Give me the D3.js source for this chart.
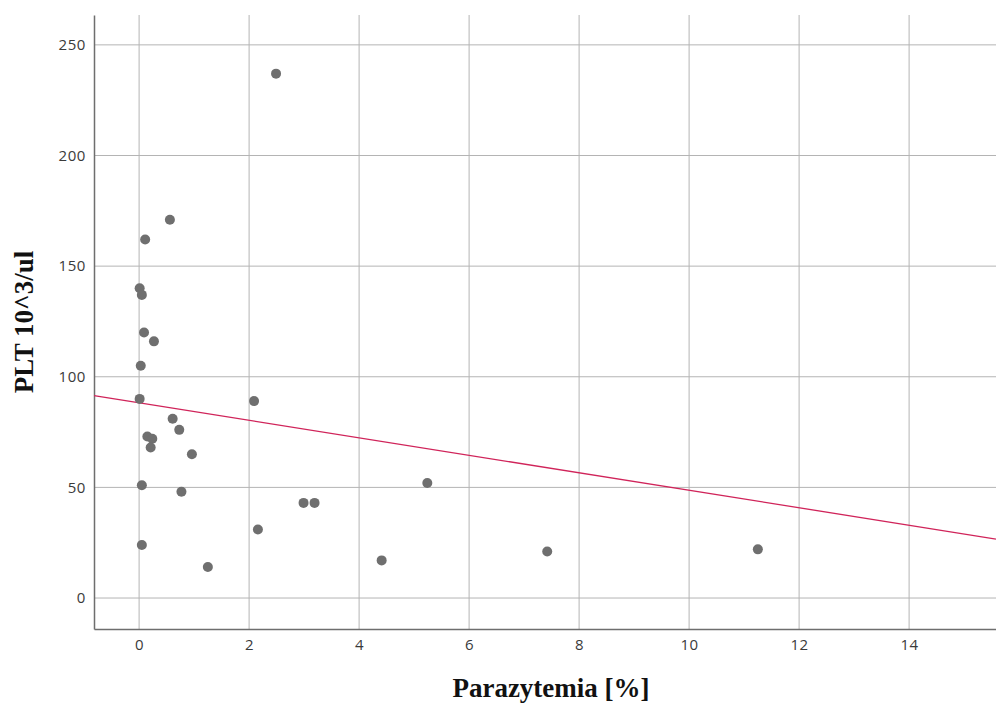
<!DOCTYPE html>
<html>
<head>
<meta charset="utf-8">
<script src="https://cdn.jsdelivr.net/npm/d3@7"></script>
<style>
  html, body { margin: 0; padding: 0; background: #fff; }
  svg { display: block; }
</style>
</head>
<body>
<svg id="chart" width="996" height="704"></svg>
<script>
// Parasitemia (%) against platelet count (10^3/ul), one point per patient
const parasitemia = [2.49, 0.56, 0.11, 0.01, 0.05, 0.09, 0.27, 0.03, 0.01, 2.09,
  0.61, 0.73, 0.15, 0.24, 0.21, 0.96, 0.05, 0.77, 2.99, 3.19,
  2.16, 0.05, 1.25, 4.41, 5.24, 7.42, 11.25];
const plt = [237, 171, 162, 140, 137, 120, 116, 105, 90, 89,
  81, 76, 73, 72, 68, 65, 51, 48, 43, 43,
  31, 24, 14, 17, 52, 21, 22];

// Fitted linear trend line: PLT = intercept + slope * parasitemia
const fitIntercept = 88.2;
const fitSlope = -3.95;

const xTicks = [0, 2, 4, 6, 8, 10, 12, 14];
const yTicks = [0, 50, 100, 150, 200, 250];

const xDomain = [-0.82, 15.58];
const yDomain = [-14, 263.5];

const svg = d3.select("#chart");
const plotLeft = 94, plotRight = 996, plotTop = 15, plotBottom = 629;

const x = d3.scaleLinear().domain(xDomain).range([plotLeft, plotRight]);
const y = d3.scaleLinear().domain(yDomain).range([plotBottom, plotTop]);

// Grid lines
const grid = svg.append("g");
grid.selectAll("line.vg").data(xTicks).join("line")
  .attr("class", "vg")
  .attr("x1", d => x(d)).attr("x2", d => x(d))
  .attr("y1", plotTop).attr("y2", plotBottom)
  .attr("stroke", "#b4b4b4").attr("stroke-width", 1);
grid.selectAll("line.hg").data(yTicks).join("line")
  .attr("class", "hg")
  .attr("x1", plotLeft).attr("x2", plotRight)
  .attr("y1", d => y(d)).attr("y2", d => y(d))
  .attr("stroke", "#b4b4b4").attr("stroke-width", 1);

// Axes
const xAxis = d3.axisBottom(x).tickValues(xTicks).tickSize(0).tickPadding(10);
const yAxis = d3.axisLeft(y).tickValues(yTicks).tickSize(0).tickPadding(8);

const gx = svg.append("g").attr("transform", `translate(0,${plotBottom})`).call(xAxis);
const gy = svg.append("g").attr("transform", `translate(${plotLeft},0)`).call(yAxis);
[gx, gy].forEach(g => {
  g.select(".domain").attr("stroke", "#6e6e6e").attr("stroke-width", 1.5);
  g.selectAll("text")
    .attr("fill", "#3a3a3a")
    .style("font-family", "'Open Sans', sans-serif")
    .style("font-size", "15px")
    .style("letter-spacing", "0.6px");
});

// Fit line across the full plot width
svg.append("line")
  .attr("x1", x(xDomain[0])).attr("y1", y(fitIntercept + fitSlope * xDomain[0]))
  .attr("x2", x(xDomain[1])).attr("y2", y(fitIntercept + fitSlope * xDomain[1]))
  .attr("stroke", "#d0245a").attr("stroke-width", 1.3);

// Points
const points = parasitemia.map((v, i) => ({ x: v, y: plt[i] }));
svg.append("g").selectAll("circle").data(points).join("circle")
  .attr("cx", d => x(d.x)).attr("cy", d => y(d.y))
  .attr("r", 5)
  .attr("fill", "#6f6f6f");

// Axis titles
svg.append("text")
  .attr("x", 551).attr("y", 697)
  .attr("text-anchor", "middle")
  .style("font-family", "'Liberation Serif', 'Times New Roman', serif")
  .style("font-weight", "bold")
  .style("font-size", "27px")
  .attr("fill", "#111")
  .text("Parazytemia [%]");

svg.append("text")
  .attr("transform", "translate(33,322) rotate(-90)")
  .attr("text-anchor", "middle")
  .style("font-family", "'Liberation Serif', 'Times New Roman', serif")
  .style("font-weight", "bold")
  .style("font-size", "27px")
  .attr("fill", "#111")
  .text("PLT 10^3/ul");
</script>
</body>
</html>
